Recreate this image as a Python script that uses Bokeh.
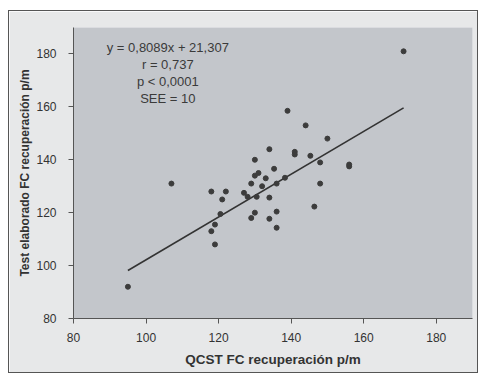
from bokeh.plotting import figure
from bokeh.models import Range1d, Label, FixedTicker
from bokeh.embed import file_html
from bokeh.resources import INLINE

# Data
qcst = [95, 107, 118, 119, 119, 118, 122, 121, 120.5, 127, 129, 130, 131, 130, 133, 132,
        130.5, 130, 129, 134, 134, 136, 136, 134, 135.3, 136, 138.3, 139, 144, 150, 141,
        141, 145.3, 148, 148, 146.4, 156, 156, 171, 128]
test = [92, 131, 113, 115.5, 108, 128, 128, 125, 119.5, 127.5, 131, 134, 135, 140, 133, 130,
        126, 120, 118, 125.7, 117.7, 120.4, 114.3, 144, 136.6, 131, 133.2, 158.5, 153, 148, 143,
        142, 141.5, 139, 131, 122.3, 137.5, 138.2, 181, 126]
slope = 0.8089
intercept = 21.307
stats_lines = ["y = 0,8089x + 21,307", "r = 0,737", "p < 0,0001", "SEE = 10"]
x_ticks = [80, 100, 120, 140, 160, 180]
y_ticks = [80, 100, 120, 140, 160, 180]

FONT = "Liberation Sans"

p = figure(width=470, height=363, output_backend="svg", toolbar_location=None,
           x_range=Range1d(80, 190), y_range=Range1d(80, 190),
           min_border_left=64, min_border_right=7, min_border_top=16, min_border_bottom=56)

p.background_fill_color = "#c3c6cb"
p.border_fill_color = "#e7e8e9"
p.outline_line_color = None
p.grid.visible = False
p.styles = {"border": "1px solid #555", "box-sizing": "border-box", "margin": "10px 0 0 8px"}

# regression line
x0, x1 = min(qcst), max(qcst)
p.line([x0, x1], [slope * x0 + intercept, slope * x1 + intercept], line_color="#333333", line_width=1.6)

p.scatter(qcst, test, size=5, fill_color="#3c3c3c", line_color="#3c3c3c")

for ax, ticks in ((p.xaxis, x_ticks), (p.yaxis, y_ticks)):
    ax.ticker = FixedTicker(ticks=ticks)
    ax.minor_tick_line_color = None
    ax.major_tick_in = 0
    ax.major_tick_out = 5
    ax.axis_line_color = "#555555"
    ax.major_tick_line_color = "#555555"
    ax.major_label_text_font = FONT
    ax.major_label_text_font_size = "12px"
    ax.major_label_text_color = "#333333"
    ax.axis_label_text_font = FONT
    ax.axis_label_text_font_style = "bold"
    ax.axis_label_text_color = "#333333"

p.xaxis.axis_label = "QCST FC recuperación p/m"
p.xaxis.axis_label_text_font_size = "13.5px"
p.xaxis.major_label_standoff = 9
p.xaxis.axis_label_standoff = 7
p.yaxis.axis_label = "Test elaborado FC recuperación p/m"
p.yaxis.axis_label_text_font_size = "12px"
p.yaxis.major_label_standoff = 12
p.yaxis.axis_label_standoff = 1

for i, t in enumerate(stats_lines):
    p.add_layout(Label(x=106, y=182.6 - i * 6.5, x_units="data", y_units="data", text=t,
                       text_font=FONT, text_font_size="13px", text_color="#3a3a3a",
                       text_align="center", text_baseline="middle"))

open("out.html", "w").write(file_html(p, INLINE))
